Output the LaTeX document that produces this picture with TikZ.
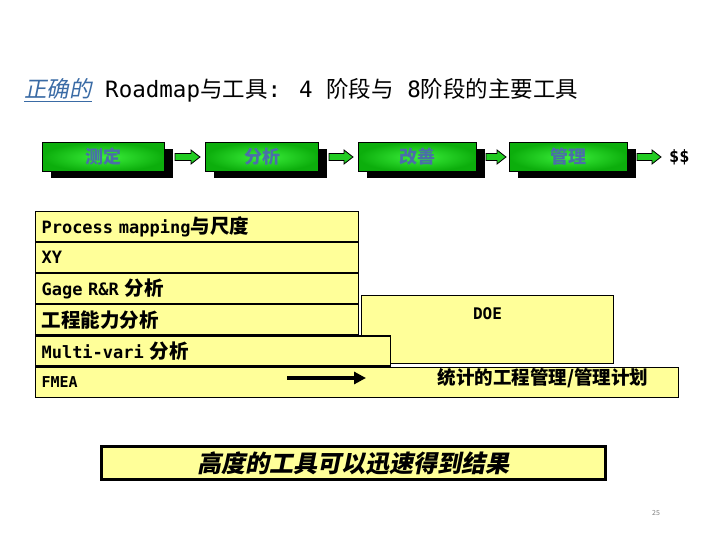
\documentclass[tikz,border=0pt]{standalone}
\usepackage{fontspec}
\setmainfont{DejaVu Sans Mono}
\newfontfamily\cjk[AutoFakeSlant=0.2]{Noto Sans CJK SC}
\newfontfamily\cjksl[FakeSlant=0.2]{Noto Sans CJK SC}
\usetikzlibrary{arrows.meta,positioning,calc,shadows}

\definecolor{rowyellow}{HTML}{FFFF99}
\definecolor{phlight}{HTML}{3CF03C}
\definecolor{phdark}{HTML}{0CAE0C}
\definecolor{phgreen}{HTML}{22CC22}
\definecolor{phblue}{HTML}{4A6FA8}
\definecolor{ttlblue}{HTML}{3A6BA5}
\newcommand\setfs[1]{\fontsize{#1pt}{#1pt}\selectfont}
\newcommand\zh[1]{{\cjk\setfs{19.5}#1}}

\begin{document}
\begin{tikzpicture}[
      x=1pt, y=-1pt,
      phase/.style={draw=black, line width=1pt, shading=radial,
                    inner color=phlight, outer color=phdark,
                    minimum width=#1, minimum height=29pt, inner sep=0pt,
                    anchor=west, text=phblue, font=\cjk\bfseries\setfs{18},
                    drop shadow={fill=black, opacity=1,
                                 shadow xshift=8pt, shadow yshift=-7pt}},
      fatarr/.style={draw=black, line width=0.8pt, fill=phgreen,
                     to path={let \p1=(\tikztostart), \p2=(\tikztotarget) in
                       (\x1,\y1+3.5pt) -- (\x2-9pt,\y1+3.5pt) -- (\x2-9pt,\y1+7pt)
                       -- (\x2,\y1) -- (\x2-9pt,\y1-7pt) -- (\x2-9pt,\y1-3.5pt)
                       -- (\x1,\y1-3.5pt) -- cycle}},
      row/.style={draw=black, line width=1.1pt, fill=rowyellow,
                  anchor=north west, inner xsep=6pt, inner ysep=0pt,
                  minimum height=30pt, text width=#1, align=left,
                  font=\bfseries\setfs{17}},
      blk/.style={-{Triangle[length=12pt, width=12pt]}, line width=3.5pt}
    ]
    \fill[white] (0,0) rectangle (720,540);
    \useasboundingbox (0,0) rectangle (720,540);

    % title
    \node[anchor=base west, inner sep=0pt, font=\setfs{22.5}] (title) at (24,98)
      {{\cjk\itshape\color{ttlblue}\underline{正确的}}\ Roadmap{\cjk 与工具}: 4 {\cjk 阶段与} 8{\cjk 阶段的主要工具}};

    % phases
    \node[phase=122pt] (m1) at (42,157) {测定};
    \node[phase=113pt, right=40pt of m1] (f1) {分析};
    \node[phase=118pt, right=39pt of f1] (g1) {改善};
    \node[phase=118pt, right=32pt of g1] (k1) {管理};
    \node[font=\bfseries\setfs{17}, inner sep=0pt, right=41pt of k1] (dol) {\$\$};

    \draw[fatarr] ([xshift=10pt]m1.east) to ([xshift=-5pt]f1.west);
    \draw[fatarr] ([xshift=10pt]f1.east) to ([xshift=-5pt]g1.west);
    \draw[fatarr] ([xshift=9pt]g1.east) to ([xshift=-3pt]k1.west);
    \draw[fatarr] ([xshift=9pt]k1.east) to ([xshift=-8pt]dol.west);

    % tools
    \node[draw=black, line width=1.1pt, fill=rowyellow, anchor=north west,
          minimum width=252pt, minimum height=68pt, inner ysep=4pt,
          text height=20pt, text depth=40pt, font=\bfseries\setfs{16}] (doe) at (361,295) {DOE};
    \node[row=311pt] (r1) at (35,211) {Process mapping\zh{与尺度}};
    \node[row=311pt] (r2) at (r1.south west) {XY};
    \node[row=311pt] (r3) at (r2.south west) {Gage R\&R \zh{分析}};
    \node[row=311pt] (r4) at (r3.south west) {\zh{工程能力分析}};
    \node[row=343pt] (r5) at (r4.south west) {Multi-vari \zh{分析}};
    \node[row=631pt, font=\bfseries\setfs{15}] (r6) at (r5.south west) {FMEA};
    \node[font=\cjk\bfseries\setfs{18.5}] (plan) at (543,378) {统计的工程管理/管理计划};
    \coordinate (fa) at (287,378);
    \coordinate (fb) at (366,378);
    \draw[blk] (fa) -- (fb);

    % result
    \node[draw=black, line width=3pt, fill=rowyellow, minimum width=504pt,
          minimum height=33pt, font=\cjksl\bfseries\setfs{24}] (goal) at (353.5,463)
      {高度的工具可以迅速得到结果};

    \node[text=gray, font=\cjk\setfs{7}] (pg) at (656,513) {25};
  \end{tikzpicture}
\end{document}
